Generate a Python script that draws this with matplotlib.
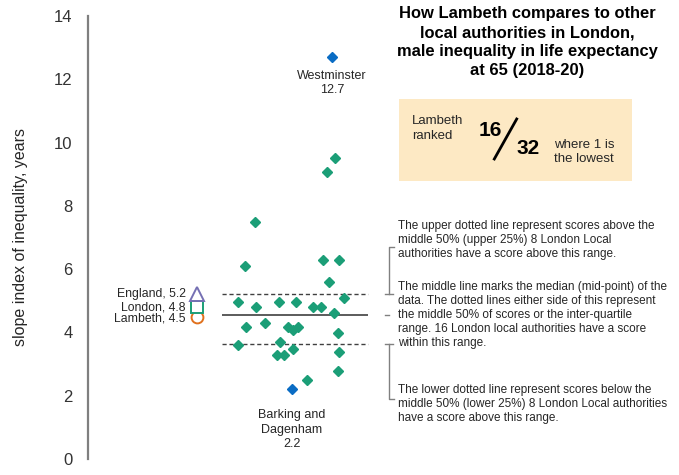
import matplotlib.pyplot as plt
from matplotlib.lines import Line2D
from matplotlib.patches import Rectangle

plt.rcParams['font.family'] = ['Liberation Sans', 'DejaVu Sans']

# London local authorities, slope index of inequality (years), male LE at 65
london_values = [9.50, 9.08, 7.48, 6.10, 6.29, 6.29, 5.58, 5.08,
                 4.97, 4.97, 4.97, 4.79, 4.79, 4.79, 4.60, 4.18,
                 4.29, 4.18, 4.08, 4.18, 3.99, 3.60, 3.69, 3.48,
                 3.29, 3.29, 3.39, 2.79, 2.50]
extreme_names = ['Westminster', 'Barking and\nDagenham']
extreme_values = [12.7, 2.2]

comparators = ['England', 'London', 'Lambeth']
comparator_values = [5.2, 4.8, 4.5]

upper_quartile = 5.2
median = 4.55
lower_quartile = 3.65

rank, n_areas = 16, 32

# horizontal spread of the swarm (layout only)
london_x = [0.90, 0.73, -0.70, -0.90, 0.65, 0.98, 0.78, 1.07,
            -1.05, -0.22, 0.11, -0.69, 0.45, 0.62, 0.87, -0.89,
            -0.50, -0.05, 0.05, 0.15, 0.95, -1.05, -0.20, 0.05,
            -0.27, -0.12, 0.97, 0.95, 0.33]
extreme_x = [0.84, 0.04]
comparator_x = -1.86

green = '#1b9e77'
blue = '#0a6cc4'
text_col = '#262626'

W, H = 679, 475
fig = plt.figure(figsize=(W / 100, H / 100), dpi=100)
ax = fig.add_axes([88 / W, (H - 459) / H, (W - 88) / W, (459 - 16) / H])
ax.set_xlim(-4.04, 7.78)
ax.set_ylim(0, 14)
ax.set_yticks(range(0, 15, 2))
ax.set_xticks([])
for s in ['top', 'right', 'bottom']:
    ax.spines[s].set_visible(False)
ax.spines['left'].set_color('#7f7f7f')
ax.spines['left'].set_linewidth(1.6)
ax.tick_params(axis='y', length=0, pad=11, labelsize=12, labelcolor='#333333')
ax.set_ylabel('slope index of inequality, years', fontsize=11.5, color=text_col, labelpad=19)

# quartile and median lines
ax.hlines([upper_quartile, lower_quartile], -1.37, 1.56, colors='#404040',
          linestyles=(0, (3, 2)), linewidth=1)
ax.hlines(median, -1.37, 1.56, colors='#404040', linewidth=1.2)

ax.plot(london_x, london_values, 'D', color=green, markersize=4.8, linestyle='none')
ax.plot(extreme_x, extreme_values, 'D', color=blue, markersize=4.8, linestyle='none')

for name, val, x, dy in zip(extreme_names, extreme_values, extreme_x, [-9, -14]):
    ax.annotate(f'{name}\n{val}', (x, val), xytext=(0, dy), textcoords='offset points',
                ha='center', va='top', fontsize=9, color=text_col, linespacing=1.3)

# England / London / Lambeth comparators, drawn bottom-up so each overlaps the one below
styles = {'England': ('^', '#7570b3', 9.5), 'London': ('s', green, 8.5),
          'Lambeth': ('o', '#e0701c', 8.5)}
label_dy = {'England': 0, 'London': -0.5, 'Lambeth': -1.5}
for name, val in list(zip(comparators, comparator_values))[::-1]:
    m, c, ms = styles[name]
    ax.plot(comparator_x, val, m, markersize=ms, markerfacecolor='white',
            markeredgecolor=c, markeredgewidth=1.4)
    ax.annotate(f'{name}, {val}', (comparator_x, val), xytext=(-8, label_dy[name]),
                textcoords='offset points', ha='right', va='center',
                fontsize=8.8, color=text_col)

# brackets next to the explanation text
bx = 1.98
ax.plot([bx + 0.1, bx, bx], [6.7, 6.7, upper_quartile], color='#808080', lw=1, clip_on=False)
ax.plot([bx - 0.08, bx + 0.08], [upper_quartile] * 2, color='#808080', lw=1, clip_on=False)
ax.plot([bx - 0.08, bx], [median] * 2, color='#808080', lw=1, clip_on=False)
ax.plot([bx - 0.08, bx + 0.08], [lower_quartile] * 2, color='#808080', lw=1, clip_on=False)
ax.plot([bx, bx, bx + 0.1], [lower_quartile, 1.9, 1.9], color='#808080', lw=1, clip_on=False)


def ftext(x, y, s, **kw):
    fig.text(x / W, 1 - y / H, s, **kw)


ftext(527, 42, 'How Lambeth compares to other\nlocal authorities in London,\n'
      'male inequality in life expectancy\nat 65 (2018-20)',
      ha='center', va='center', fontsize=11.9, fontweight='bold',
      color='black', linespacing=1.33)

# ranking box
fig.add_artist(Rectangle((399 / W, 1 - 181 / H), 233 / W, 82 / H,
                         transform=fig.transFigure, facecolor='#fde9c4', edgecolor='none'))
ftext(412, 128.5, 'Lambeth\nranked', ha='left', va='center', fontsize=9.5,
      color=text_col, linespacing=1.3)
ftext(490, 130, str(rank), ha='center', va='center', fontsize=15, fontweight='bold')
ftext(528, 148, str(n_areas), ha='center', va='center', fontsize=15, fontweight='bold')
fig.add_artist(Line2D([516.7 / W, 494.3 / W], [1 - 119 / H, 1 - 159 / H],
                      transform=fig.transFigure, color='black', lw=2))
ftext(554, 152, 'where 1 is\nthe lowest', ha='left', va='center', fontsize=9.5,
      color=text_col, linespacing=1.3)

para_kw = dict(ha='left', va='center', fontsize=8.5, color=text_col, linespacing=1.22)
ftext(398, 240, 'The upper dotted line represent scores above the\n'
      'middle 50% (upper 25%) 8 London Local\n'
      'authorities have a score above this range.', **para_kw)
ftext(398, 315, 'The middle line marks the median (mid-point) of the\n'
      'data. The dotted lines either side of this represent\n'
      'the middle 50% of scores or the inter-quartile\n'
      'range. 16 London local authorities have a score\n'
      'within this range.', **para_kw)
ftext(398, 404, 'The lower dotted line represent scores below the\n'
      'middle 50% (lower 25%) 8 London Local authorities\n'
      'have a score above this range.', **para_kw)

fig.savefig('out.png', dpi=100)
